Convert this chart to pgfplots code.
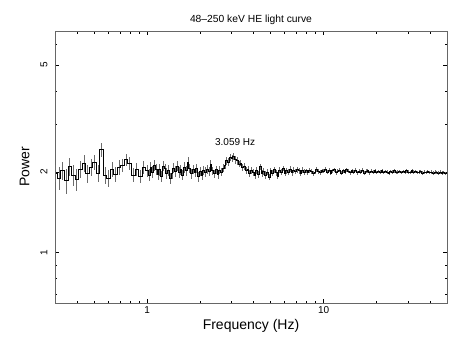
\documentclass[border=0pt]{standalone}
\usepackage{fontspec}
\setmainfont{Liberation Sans}
\usepackage{pgfplots}
\pgfplotsset{compat=1.18}
\usepackage{pgfplotstable}
\usetikzlibrary{calc}

\pgfplotstableread{
f p e
0.302 1.98 0.15
0.316 1.90 0.18
0.331 2.02 0.15
0.347 1.86 0.20
0.363 2.10 0.16
0.380 1.95 0.17
0.398 1.88 0.18
0.417 2.05 0.15
0.437 2.16 0.16
0.457 1.97 0.15
0.479 2.08 0.15
0.501 2.18 0.14
0.525 1.98 0.15
0.550 2.42 0.15
0.575 1.94 0.14
0.603 1.90 0.14
0.631 2.05 0.13
0.661 1.96 0.13
0.692 2.08 0.13
0.724 2.12 0.12
0.759 2.22 0.12
0.794 2.15 0.12
0.832 1.95 0.12
0.871 2.05 0.11
0.912 1.93 0.11
0.955 2.08 0.11
1.000 2.02 0.10
1.023 1.95 0.10
1.047 2.08 0.10
1.072 2.00 0.10
1.096 2.12 0.10
1.122 2.05 0.10
1.148 1.96 0.10
1.175 2.04 0.10
1.202 1.93 0.09
1.230 2.10 0.09
1.259 2.06 0.09
1.288 1.98 0.09
1.318 2.03 0.09
1.349 1.90 0.09
1.380 1.97 0.09
1.413 2.07 0.09
1.445 2.01 0.09
1.479 2.10 0.09
1.514 1.99 0.09
1.549 2.04 0.09
1.585 1.95 0.09
1.622 2.08 0.09
1.660 2.02 0.09
1.698 2.18 0.09
1.738 2.06 0.08
1.778 1.97 0.08
1.820 2.04 0.08
1.862 1.99 0.08
1.905 2.06 0.08
1.950 1.92 0.08
1.995 2.01 0.08
2.042 1.94 0.08
2.089 2.03 0.08
2.138 2.00 0.08
2.188 2.05 0.08
2.239 2.01 0.07
2.291 2.14 0.07
2.344 2.02 0.07
2.399 1.97 0.07
2.455 2.04 0.07
2.512 1.96 0.07
2.570 2.03 0.07
2.630 2.00 0.07
2.692 2.07 0.07
2.754 2.12 0.07
2.818 2.20 0.07
2.884 2.18 0.07
2.951 2.26 0.07
3.020 2.24 0.07
3.090 2.29 0.07
3.162 2.22 0.07
3.236 2.20 0.07
3.311 2.14 0.06
3.388 2.16 0.06
3.467 2.08 0.06
3.548 2.10 0.06
3.631 2.02 0.06
3.715 2.05 0.06
3.802 1.97 0.06
3.890 2.03 0.06
3.981 1.99 0.06
4.074 1.94 0.06
4.169 2.02 0.06
4.266 1.96 0.06
4.365 2.09 0.06
4.467 1.98 0.06
4.571 2.01 0.06
4.677 1.95 0.06
4.786 2.00 0.05
4.898 1.91 0.05
5.012 2.02 0.05
5.129 1.98 0.05
5.248 2.04 0.05
5.370 1.99 0.05
5.495 1.93 0.05
5.623 2.03 0.05
5.754 2.00 0.05
5.888 2.06 0.05
6.026 1.98 0.05
6.166 2.02 0.05
6.310 2.00 0.05
6.457 2.05 0.05
6.607 1.99 0.05
6.761 2.03 0.05
6.918 2.01 0.05
7.079 2.04 0.05
7.244 2.02 0.05
7.413 1.98 0.05
7.586 2.03 0.05
7.762 2.00 0.05
7.943 2.02 0.04
8.128 1.99 0.04
8.318 2.03 0.04
8.511 2.01 0.04
8.710 1.98 0.04
8.913 2.00 0.04
9.120 2.04 0.04
9.333 2.01 0.04
9.550 1.99 0.04
9.772 2.02 0.04
10.00 2.01 0.035
10.23 2.05 0.035
10.47 2.00 0.035
10.72 2.03 0.035
10.96 1.98 0.035
11.22 2.02 0.035
11.48 2.04 0.035
11.75 1.99 0.035
12.02 2.01 0.035
12.30 2.03 0.035
12.59 1.98 0.035
12.88 2.02 0.035
13.18 2.00 0.035
13.49 2.04 0.035
13.80 2.01 0.035
14.13 1.99 0.035
14.45 2.02 0.035
14.79 2.00 0.035
15.14 2.03 0.035
15.49 1.99 0.035
15.85 2.01 0.035
16.22 2.00 0.035
16.60 2.03 0.035
16.98 1.98 0.035
17.38 2.01 0.035
17.78 2.02 0.035
18.20 1.99 0.035
18.62 2.01 0.035
19.05 2.00 0.035
19.50 2.02 0.035
19.95 1.99 0.03
20.42 2.01 0.03
20.89 2.00 0.03
21.38 2.02 0.03
21.88 1.99 0.03
22.39 2.01 0.03
22.91 2.00 0.03
23.44 1.98 0.03
23.99 2.01 0.03
24.55 2.00 0.03
25.12 2.02 0.03
25.70 1.99 0.03
26.30 2.00 0.03
26.92 2.01 0.03
27.54 1.99 0.03
28.18 2.01 0.03
28.84 2.00 0.03
29.51 2.02 0.03
30.20 2.00 0.03
30.90 1.99 0.03
31.62 2.03 0.03
32.36 2.00 0.03
33.11 2.01 0.03
33.88 1.99 0.03
34.67 2.00 0.03
35.48 2.01 0.03
36.31 1.98 0.03
37.15 2.00 0.03
38.02 1.99 0.03
38.90 2.01 0.03
39.81 1.99 0.03
40.74 2.00 0.03
41.69 1.98 0.03
42.66 2.00 0.03
43.65 1.99 0.03
44.67 1.98 0.03
45.71 2.00 0.03
46.77 1.98 0.03
47.86 1.99 0.03
48.98 1.98 0.025
50.12 1.99 0.025
}\pds

\begin{document}
\begin{tikzpicture}
\begin{axis}[
  scale only axis,
  width=392pt, height=272pt,
  xmode=log, ymode=log,
  xmin=0.3, xmax=50, ymin=0.65, ymax=6.7,
  xtick={1,10}, xticklabels={1,10},
  minor xtick={0.4,0.5,0.6,0.7,0.8,0.9,2,3,4,5,6,7,8,9,20,30,40},
  ytick={1,2,5}, yticklabels={1,2,5},
  minor ytick={0.7,0.8,0.9,3,4,6},
  tick style={black, line width=0.7pt},
  major tick length=4pt, minor tick length=2.5pt,
  axis line style={gray!80!black, line width=0.8pt},
  tick label style={font=\fontsize{10}{11}\selectfont},
  yticklabel style={rotate=90, anchor=south, yshift=4pt},
  xlabel={Frequency (Hz)}, ylabel={Power},
  label style={font=\fontsize{14}{16}\selectfont},
  xlabel style={yshift=1pt},
  ylabel style={yshift=4pt},
  title={48--250 keV HE light curve},
  title style={font=\fontsize{10.3}{11}\selectfont, yshift=-3pt},
  clip=true,
]
\addplot[draw=none, forget plot, error bars/.cd, y dir=both, y explicit,
  error mark=none, error bar style={draw=gray!85!black, line width=0.6pt}]
  table[x=f, y=p, y error=e] {\pds};
\addplot[black, line width=0.7pt, const plot mark mid] table[x=f, y=p] {\pds};
\node[font=\fontsize{10}{11}\selectfont] at (axis cs:3.15,2.58) {3.059 Hz};
\end{axis}
\pgfresetboundingbox
\path[use as bounding box] ($(current axis.south west)+(-55pt,-51pt)$) rectangle ($(current axis.north east)+(14pt,31pt)$);
\end{tikzpicture}
\end{document}
